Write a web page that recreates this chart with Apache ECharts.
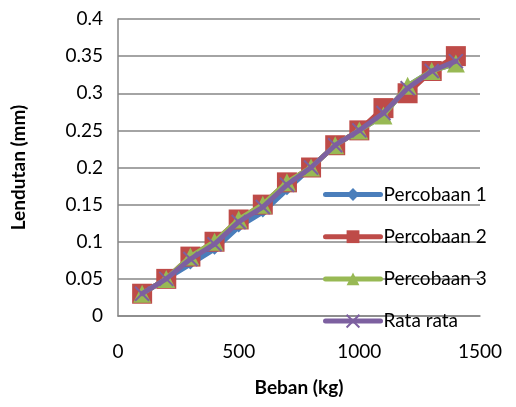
<!DOCTYPE html>
<html><head><meta charset="utf-8">
<script src="https://cdn.jsdelivr.net/npm/echarts@6/dist/echarts.min.js"></script>
<style>html,body{margin:0;padding:0;background:#fff}#c{width:516px;height:407px}</style>
</head><body><div id="c"></div>
<script>
const beban = [100,200,300,400,500,600,700,800,900,1000,1100,1200,1300,1400];
const percobaan1 = [0.03,0.05,0.07,0.09,0.12,0.14,0.17,0.20,0.23,0.25,0.27,0.31,0.33,0.34];
const percobaan2 = [0.03,0.05,0.08,0.10,0.13,0.15,0.18,0.20,0.23,0.25,0.28,0.30,0.33,0.35];
const percobaan3 = [0.03,0.05,0.08,0.10,0.13,0.15,0.18,0.20,0.23,0.25,0.27,0.31,0.33,0.34];
const rataRata = [0.03,0.05,0.0767,0.0967,0.1267,0.1467,0.1767,0.20,0.23,0.25,0.2733,0.3067,0.33,0.3433];
const names = ['Percobaan 1','Percobaan 2','Percobaan 3','Rata rata'];

const FONT = 'Lato';
const pair = arr => beban.map((b,i)=>[b,arr[i]]);
const chart = echarts.init(document.getElementById('c'), null, {renderer:'canvas'});
const xPath = 'path://M0,0 L10,10 M10,0 L0,10';
const colors = ['#4A7EBB','#BE4B48','#98B954','#7D60A0'];
const lineSeries = (i, data, symbol, size, extra) => Object.assign({
  name:names[i],type:'line',data:pair(data),symbol:symbol,symbolSize:size,
  z:3+i,
  color:colors[i],
  lineStyle:{color:colors[i],width:5,cap:'round',join:'round'},
  itemStyle:{color:colors[i]},
  emphasis:{disabled:true}
}, extra||{});
chart.setOption({
  animation:false,
  textStyle:{fontFamily:FONT},
  grid:{left:118,right:36,top:19,bottom:91},
  xAxis:{type:'value',min:0,max:1500,interval:500,
    name:'Beban (kg)',nameLocation:'middle',nameGap:62,
    nameTextStyle:{fontFamily:FONT,fontWeight:'bold',fontSize:19,color:'#000'},
    axisLine:{show:true,lineStyle:{color:'#868686',width:1.5}},
    axisTick:{show:false},
    axisLabel:{fontFamily:FONT,fontSize:19,color:'#000',margin:26,formatter:v=>String(v)},
    splitLine:{show:false}},
  yAxis:{type:'value',min:0,max:0.4,interval:0.05,
    name:'Lendutan (mm)',nameLocation:'middle',nameGap:90,nameRotate:90,
    nameTextStyle:{fontFamily:FONT,fontWeight:'bold',fontSize:19,color:'#000'},
    axisLine:{show:true,lineStyle:{color:'#868686',width:1.5}},
    axisTick:{show:false},
    axisLabel:{fontFamily:FONT,fontSize:19,color:'#000',margin:15,formatter:v=>String(+v.toFixed(2))},
    splitLine:{show:true,lineStyle:{color:'#868686',width:1.5}}},
  legend:{orient:'vertical',left:323,top:185,padding:0,itemWidth:55,itemHeight:16,itemGap:23.2,
    lineStyle:{width:5},z:10,
    textStyle:{fontFamily:FONT,fontSize:19,color:'#000',padding:[0,0,0,-2]},
    data:names},
  series:[
    lineSeries(0, percobaan1, 'diamond', 11),
    lineSeries(1, percobaan2, 'rect', 20),
    lineSeries(2, percobaan3, 'triangle', 18),
    lineSeries(3, rataRata, xPath, 14, {itemStyle:{color:colors[3],borderColor:colors[3],borderWidth:2}})
  ]
});
</script></body></html>
